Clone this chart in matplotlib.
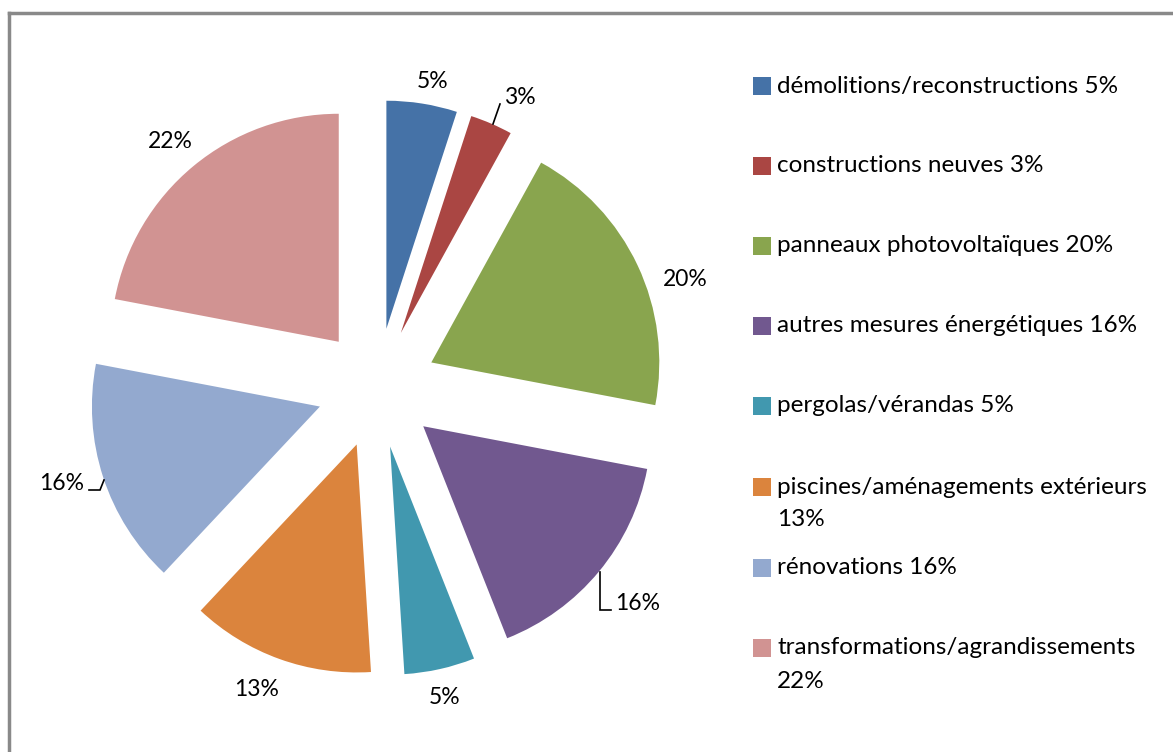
import matplotlib
matplotlib.use("Agg")
import matplotlib.pyplot as plt

# ── data ──────────────────────────────────────────────────────────────────
categories = [
    "démolitions/reconstructions 5%",
    "constructions neuves 3%",
    "panneaux photovoltaïques 20%",
    "autres mesures énergétiques 16%",
    "pergolas/vérandas 5%",
    "piscines/aménagements extérieurs\n13%",
    "rénovations 16%",
    "transformations/agrandissements\n22%",
]
shares = [5, 3, 20, 16, 5, 13, 16, 22]
pct_labels = ["5%", "3%", "20%", "16%", "5%", "13%", "16%", "22%"]
colors = ["#4572A7", "#AA4643", "#89A54E", "#71588F",
          "#4198AF", "#DB843D", "#93A9CF", "#D19392"]

W, H = 1173, 752
FONT = "Lato"

fig = plt.figure(figsize=(W / 100, H / 100), dpi=100)
ax = fig.add_axes([0, 0, 1, 1])

# pixel y (top-down) -> data y
def py(y):
    return H - y

# ── pie ───────────────────────────────────────────────────────────────────
cx, cy, r, expl = 377, py(388), 228, 60
wedges, _ = ax.pie(shares, colors=colors, startangle=90, counterclock=False,
                   radius=r, center=(cx, cy), explode=[expl] * len(shares),
                   wedgeprops=dict(linewidth=0), frame=True)
ax.set_xlim(0, W)
ax.set_ylim(0, H)
ax.set_aspect("equal")
ax.axis("off")

# data labels (pixel positions, Excel best fit)
label_pos = [(433, 82), (520, 97), (685, 280), (638, 603),
             (445, 697), (257, 689), (62, 483), (170, 142)]
for txt, (lx, ly) in zip(pct_labels, label_pos):
    ax.text(lx, py(ly), txt, ha="center", va="center", fontsize=16.5,
            family=FONT, color="black")

# leader lines
leaders = [
    [(493, 124), (500, 104)],
    [(600, 572), (600, 610), (611, 610)],
    [(89, 490), (100, 490), (104, 480)],
]
for pts in leaders:
    xs = [p[0] for p in pts]
    ys = [py(p[1]) for p in pts]
    ax.plot(xs, ys, color="black", lw=1.2, solid_joinstyle="miter")

# ── legend (drawn by hand to mimic Excel spacing) ────────────────────────
row_y = [86, 166, 246, 326, 406, 487, 568, 648]
for lab, col, y in zip(categories, colors, row_y):
    ax.scatter([762], [py(y)], marker="s", s=160, color=col, linewidths=0)
    for k, line in enumerate(lab.split("\n")):
        ax.text(777, py(y + 33 * k), line, ha="left", va="center",
                fontsize=17.5, family=FONT, color="black")

# chart frame (only top/left visible in the crop)
ax.plot([9, W], [py(13), py(13)], color="#898989", lw=2.5)
ax.plot([9, 9], [py(13), 0], color="#898989", lw=2.5)

fig.savefig("out.png", dpi=100)
